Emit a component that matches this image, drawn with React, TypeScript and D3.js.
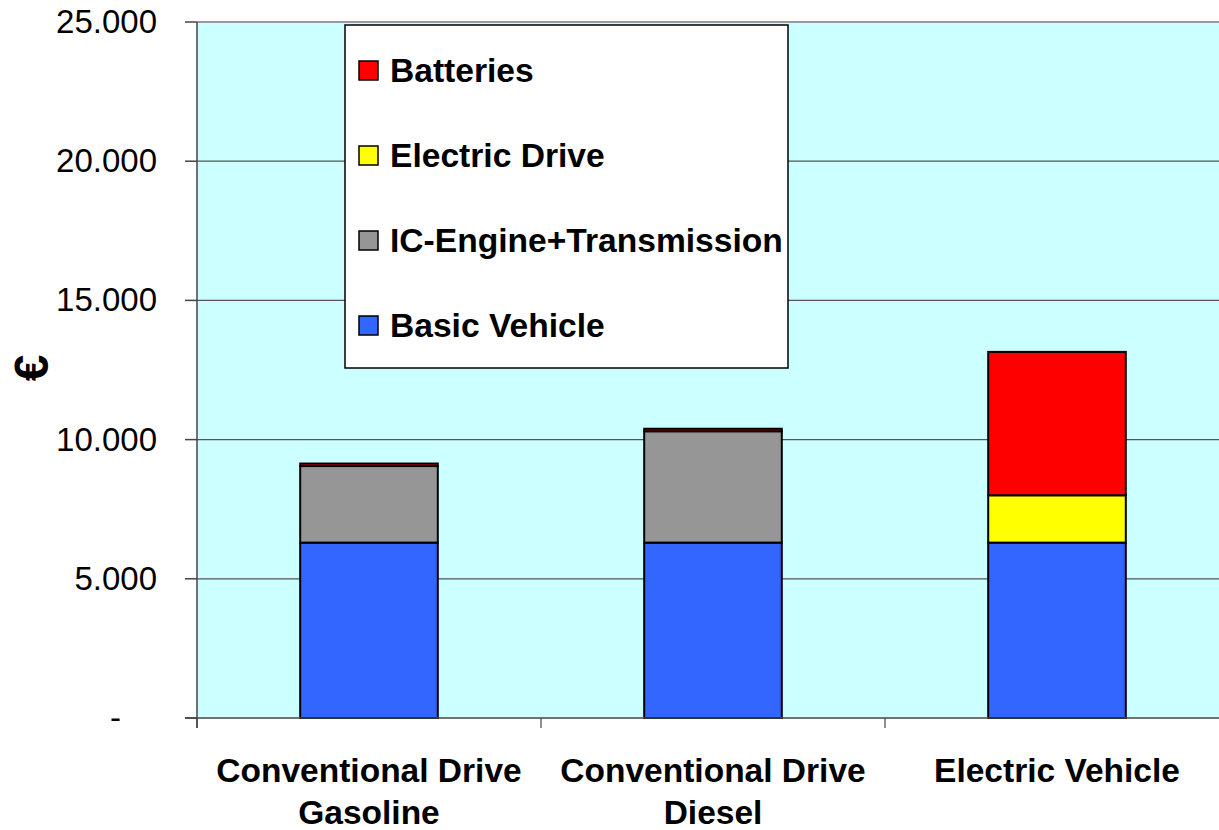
import React from "react";
import * as d3 from "d3";

// Vehicle cost breakdown (€) per drive concept
const categories = ["Conventional Drive\nGasoline", "Conventional Drive\nDiesel", "Electric Vehicle"];
const seriesNames = ["Basic Vehicle", "IC-Engine+Transmission", "Electric Drive", "Batteries"];
const basicVehicle = [6300, 6300, 6300];
const icEngine = [2750, 4000, 0];
const electricDrive = [0, 0, 1700];
const batteries = [90, 90, 5150];
const yTicks = [0, 5000, 10000, 15000, 20000, 25000];
const yTickLabels = ["-", "5.000", "10.000", "15.000", "20.000", "25.000"];
const colors = ["#3366FF", "#969696", "#FFFF00", "#FF0000"];

const W = 1219;
const H = 830;
const plot = { left: 197, right: 1229, top: 22, bottom: 718 };

export default function App() {
  const rows = categories.map((c, i) => ({
    cat: c,
    "Basic Vehicle": basicVehicle[i],
    "IC-Engine+Transmission": icEngine[i],
    "Electric Drive": electricDrive[i],
    Batteries: batteries[i],
  }));
  const stacked = d3.stack<any>().keys(seriesNames)(rows);

  const x = d3.scaleBand<string>().domain(categories).range([plot.left, plot.right]).paddingInner(0).paddingOuter(0);
  const y = d3.scaleLinear().domain([0, 25000]).range([plot.bottom, plot.top]);
  const barW = x.bandwidth() * 0.4;

  const font = "Arial, 'Liberation Sans', sans-serif";
  const legendOrder = [3, 2, 1, 0];

  return (
    <svg width={W} height={H} style={{ position: "absolute", left: 0, top: 0, background: "#fff" }} fontFamily={font}>
      {/* plot background */}
      <rect x={plot.left} y={plot.top} width={W - plot.left} height={plot.bottom - plot.top} fill="#CCFFFF" />
      <line x1={plot.left} x2={W} y1={plot.top} y2={plot.top} stroke="#999" strokeWidth={2} />
      {/* gridlines */}
      {yTicks.slice(1, -1).map((t) => (
        <line key={t} x1={plot.left} x2={W} y1={y(t)} y2={y(t)} stroke="#555" strokeWidth={1.2} />
      ))}
      {/* stacked bars */}
      {stacked.map((s, si) => (
        <g key={s.key} fill={colors[si]}>
          {s.map((d, i) =>
            d[1] - d[0] > 0 ? (
              <rect
                key={i}
                x={(x(categories[i]) as number) + (x.bandwidth() - barW) / 2}
                y={y(d[1])}
                width={barW}
                height={y(d[0]) - y(d[1])}
                stroke="#000"
                strokeWidth={2}
              />
            ) : null
          )}
        </g>
      ))}
      {/* axes */}
      <line x1={plot.left} x2={plot.left} y1={plot.top} y2={plot.bottom + 10} stroke="#444" strokeWidth={1.5} />
      <line x1={plot.left - 12} x2={W} y1={plot.bottom} y2={plot.bottom} stroke="#444" strokeWidth={1.5} />
      {yTicks.map((t, i) => (
        <g key={t}>
          <line x1={plot.left - 12} x2={plot.left} y1={y(t)} y2={y(t)} stroke="#444" strokeWidth={1.5} />
          {/* accounting-style zero dash sits inset from the number column */}
          <text x={t === 0 ? 121 : 157} y={y(t) + 11} textAnchor="end" fontSize={33} fill="#000">
            {yTickLabels[i]}
          </text>
        </g>
      ))}
      {categories.map((c, i) => (
        <line key={"t" + i} x1={x(c) as number} x2={x(c) as number} y1={plot.bottom} y2={plot.bottom + 10} stroke="#444" strokeWidth={1.2} />
      ))}
      {categories.map((c) => {
        const cx = (x(c) as number) + x.bandwidth() / 2;
        return (
          <text key={c} x={cx} textAnchor="middle" fontSize={33.5} fontWeight="bold" fill="#000">
            {c.split("\n").map((line, li) => (
              <tspan key={li} x={cx} y={782 + li * 42}>
                {line}
              </tspan>
            ))}
          </text>
        );
      })}
      <text transform="translate(48,368) rotate(-90)" textAnchor="middle" fontSize={48} fontWeight="bold" fill="#000">
        €
      </text>
      {/* legend */}
      <rect x={345} y={25} width={443} height={343} fill="#fff" stroke="#000" strokeWidth={1.5} />
      {legendOrder.map((si, k) => (
        <g key={si} transform={`translate(0,${k * 85})`}>
          <rect x={359} y={61} width={19} height={19} fill={colors[si]} stroke="#000" strokeWidth={1.5} />
          <text x={390} y={82} fontSize={33.6} fontWeight="bold" fill="#000">
            {seriesNames[si]}
          </text>
        </g>
      ))}
    </svg>
  );
}
